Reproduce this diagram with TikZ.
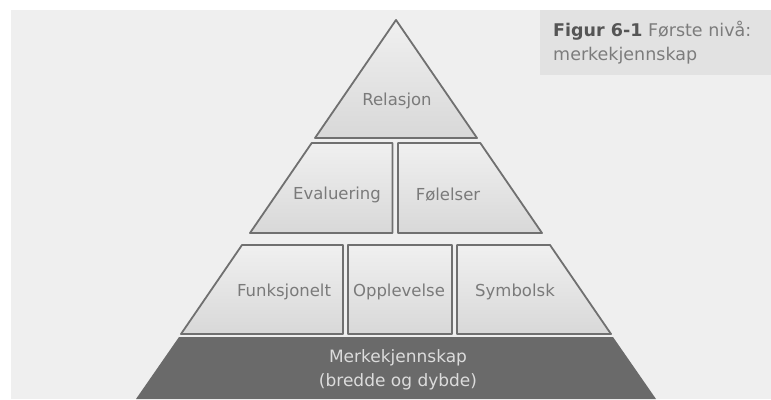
\documentclass[tikz,border=0pt]{standalone}
\usepackage{fontspec}
\setmainfont{DejaVu Sans}
\begin{document}
\begin{tikzpicture}[x=1pt,y=-1pt,
  tier/.style={draw=edgegray,line width=1.8pt,line join=round,top color=tiertop,bottom color=tierbot},
  lbl/.style={text=lblgray,font=\fontsize{16.5}{18}\selectfont,inner sep=0pt},
  baselbl/.style={text=baselbltext,font=\fontsize{17}{18}\selectfont,inner sep=0pt,align=center}]
\definecolor{bggray}{HTML}{EFEFEF}
\definecolor{capgray}{HTML}{E2E2E2}
\definecolor{edgegray}{HTML}{707070}
\definecolor{tiertop}{HTML}{F0F0F0}
\definecolor{tierbot}{HTML}{D8D8D8}
\definecolor{lblgray}{HTML}{7A7A7A}
\definecolor{basegray}{HTML}{6A6A6A}
\definecolor{baselbltext}{HTML}{DCDCDC}
\definecolor{capdark}{HTML}{555555}
\definecolor{caplight}{HTML}{7C7C7C}
\useasboundingbox (0,0) rectangle (771,399);
\fill[white] (0,0) rectangle (771,399);
\fill[bggray] (11,10) rectangle (771,399);
% caption box
\fill[capgray] (540,10) rectangle (771,75);
\node[anchor=north west,inner sep=0pt,align=left,font=\fontsize{17.5}{24}\selectfont] (cap) at (553,21)
  {\textcolor{capdark}{\textbf{Figur 6-1}} \textcolor{caplight}{Første nivå:}\\\textcolor{caplight}{merkekjennskap}};
% base band
\fill[basegray] (179,337) -- (613,337) -- (656,399) -- (136,399) -- cycle;
% top triangle
\path[tier] (396,20) -- (477,138) -- (315,138) -- cycle;
% middle tier
\path[tier] (311.7,143) -- (392.5,143) -- (392.5,233) -- (250,233) -- cycle;
\path[tier] (398,143) -- (480.3,143) -- (542,233) -- (398,233) -- cycle;
% bottom tier
\path[tier] (242,245) -- (343,245) -- (343,334) -- (181,334) -- cycle;
\path[tier] (348,245) -- (452,245) -- (452,334) -- (348,334) -- cycle;
\path[tier] (457,245) -- (550,245) -- (611,334) -- (457,334) -- cycle;
% labels
\node[lbl] (rel) at (397,101) {Relasjon};
\node[lbl] (eval) at (337,195) {Evaluering};
\node[lbl] (fol) at (448,195) {Følelser};
\node[lbl] (funk) at (284,292) {Funksjonelt};
\node[lbl] (opp) at (399,292) {Opplevelse};
\node[lbl] (sym) at (515,292) {Symbolsk};
\node[baselbl] (mk) at (398,358) {Merkekjennskap};
\node[baselbl] (bd) at (398,382) {(bredde og dybde)};
\end{tikzpicture}
\end{document}
